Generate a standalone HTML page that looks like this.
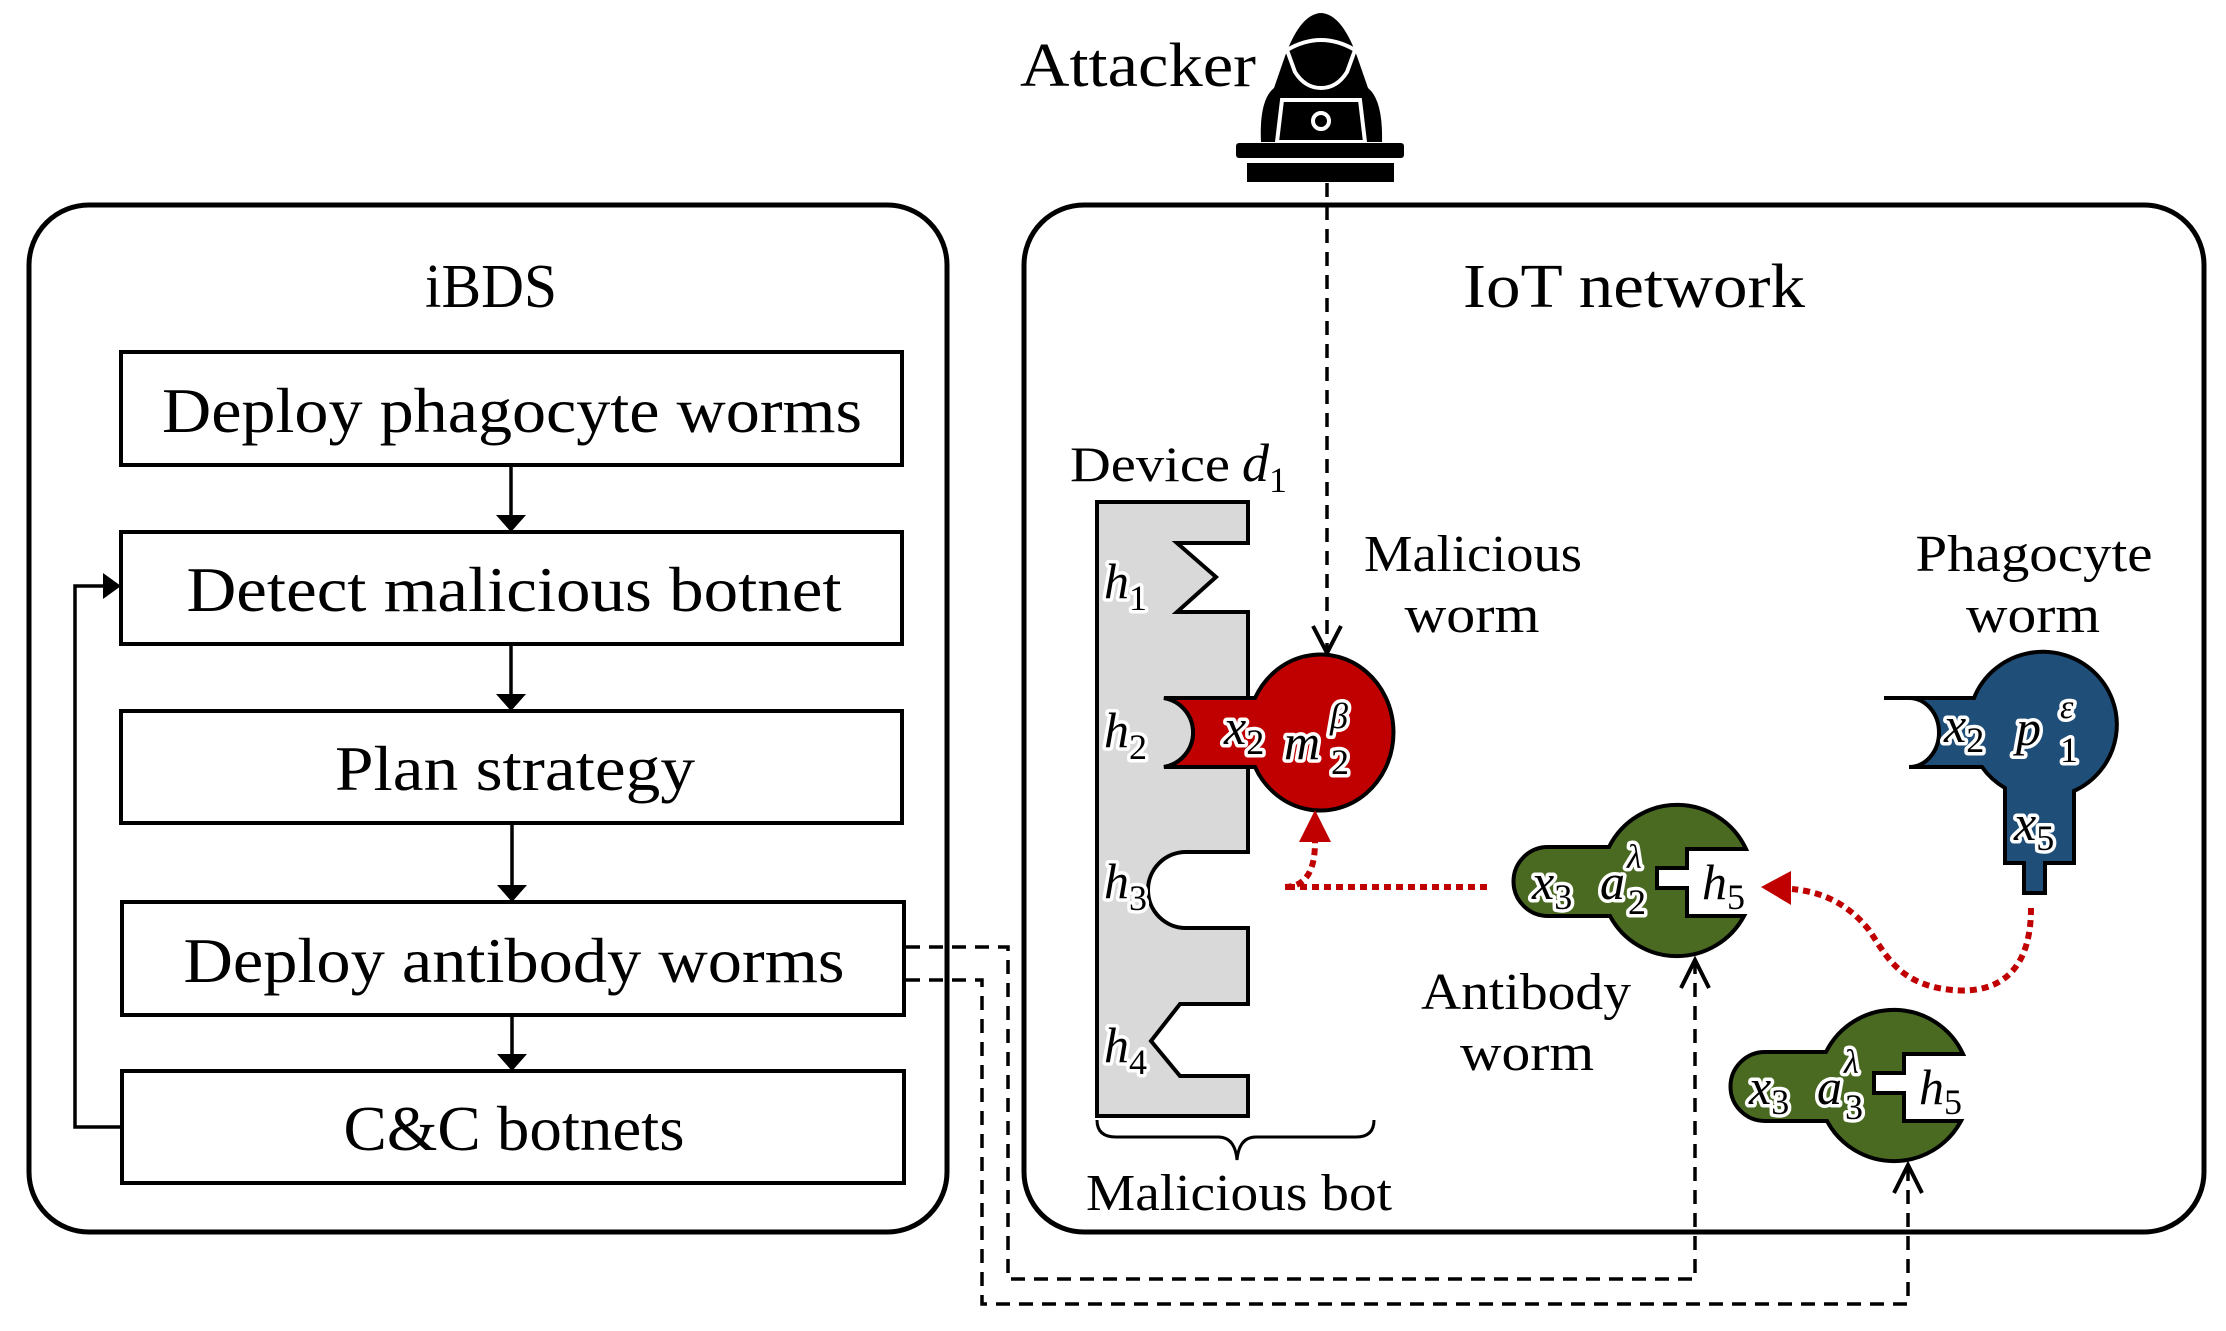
<!DOCTYPE html>
<html><head><meta charset="utf-8"><style>
html,body{margin:0;padding:0;background:#fff}
svg{display:block}
text{font-family:"Liberation Serif",serif;fill:#000}
.m{font-style:italic;stroke:#fff;stroke-width:7;paint-order:stroke;stroke-linejoin:round}
.s{font-style:normal}
</style></head><body>
<svg width="2226" height="1331" viewBox="0 0 2226 1331" xmlns="http://www.w3.org/2000/svg">
<!-- outer boxes -->
<rect x="29" y="205" width="918" height="1027" rx="60" fill="none" stroke="#000" stroke-width="5"/>
<rect x="1024" y="205" width="1180" height="1027" rx="60" fill="none" stroke="#000" stroke-width="5"/>
<text x="491" y="307" font-size="62" text-anchor="middle" textLength="132" lengthAdjust="spacingAndGlyphs">iBDS</text>

<!-- left boxes -->
<g fill="#fff" stroke="#000" stroke-width="4">
<rect x="121" y="352" width="781" height="113"/>
<rect x="121" y="532" width="781" height="112"/>
<rect x="121" y="711" width="781" height="112"/>
<rect x="122" y="902" width="782" height="113"/>
<rect x="122" y="1071" width="782" height="112"/>
</g>
<g font-size="64" text-anchor="middle">
<text x="512" y="432" textLength="700" lengthAdjust="spacingAndGlyphs">Deploy phagocyte worms</text>
<text x="514" y="611" textLength="655" lengthAdjust="spacingAndGlyphs">Detect malicious botnet</text>
<text x="515" y="790" textLength="360" lengthAdjust="spacingAndGlyphs">Plan strategy</text>
<text x="514" y="982" textLength="661" lengthAdjust="spacingAndGlyphs">Deploy antibody worms</text>
<text x="514" y="1150" textLength="341" lengthAdjust="spacingAndGlyphs">C&amp;C botnets</text>
</g>
<g stroke="#000" stroke-width="3.5" fill="none">
<line x1="511" y1="465" x2="511" y2="518"/>
<line x1="511" y1="644" x2="511" y2="697"/>
<line x1="512" y1="823" x2="512" y2="888"/>
<line x1="512" y1="1015" x2="512" y2="1057"/>
<polyline points="122,1127 75,1127 75,586 106,586"/>
</g>
<g fill="#000">
<path d="M496,515 L526,515 L511,532 Z"/>
<path d="M496,694 L526,694 L511,711 Z"/>
<path d="M497,885 L527,885 L512,902 Z"/>
<path d="M497,1054 L527,1054 L512,1071 Z"/>
<path d="M103,573 L121,586 L103,599 Z"/>
</g>

<!-- attacker icon -->
<g transform="translate(-1,0)">
<path d="M1262,142 Q1260,100 1275,88 L1284,62 Q1300,14 1322,13 Q1344,14 1360,62 L1369,88 Q1384,100 1383,142 Z" fill="#000"/>
<path d="M1288,50 Q1322,30 1356,50 L1348,72 Q1338,88 1322,88 Q1306,88 1296,72 Z" fill="#000" stroke="#fff" stroke-width="4"/>
<path d="M1278,142 L1283,100 L1361,100 L1366,142 Z" fill="#000" stroke="#fff" stroke-width="4"/>
<circle cx="1322" cy="121" r="8" fill="none" stroke="#fff" stroke-width="4"/>
<rect x="1237" y="143" width="168" height="15" rx="3" fill="#000"/>
<rect x="1248" y="163" width="147" height="19" fill="#000"/>
</g>

<g transform="translate(-6,0)">
<text x="1640" y="307" font-size="62" text-anchor="middle" textLength="342" lengthAdjust="spacingAndGlyphs">IoT network</text>
<text x="1026" y="86" font-size="62" textLength="236" lengthAdjust="spacingAndGlyphs">Attacker</text>
<line x1="1333" y1="183" x2="1333" y2="650" stroke="#000" stroke-width="3.5" stroke-dasharray="14 9"/>
<polyline points="1319,626 1333,653 1347,626" fill="none" stroke="#000" stroke-width="4"/>

<!-- device -->
<text x="1076" y="481" font-size="50" textLength="160" lengthAdjust="spacingAndGlyphs">Device</text>
<text x="1248" y="481" font-size="54" font-style="italic">d</text>
<text x="1275" y="492" font-size="36">1</text>
<path d="M1103,502 H1254 V543 H1183 L1222,577 L1183,612 H1254 V698 H1170 A35 35 0 0 1 1170,767 H1254 V852 H1192 A38 38 0 0 0 1192,928 H1254 V1004 H1186 L1157,1041 L1186,1076 H1254 V1116 H1103 Z" fill="#d9d9d9" stroke="#000" stroke-width="4"/>
<g font-size="50">
<text class="m" x="1110" y="598">h<tspan class="s" font-size="36" dy="12">1</tspan></text>
<text class="m" x="1110" y="747">h<tspan class="s" font-size="36" dy="12">2</tspan></text>
<text class="m" x="1110" y="898">h<tspan class="s" font-size="36" dy="12">3</tspan></text>
<text class="m" x="1110" y="1062">h<tspan class="s" font-size="36" dy="12">4</tspan></text>
</g>
<path d="M1103,1120 Q1103,1137 1122,1137 H1224 Q1241,1137 1243,1160 Q1245,1137 1262,1137 H1362 Q1380,1137 1380,1120" fill="none" stroke="#000" stroke-width="3"/>
<text x="1245" y="1210" font-size="52" text-anchor="middle" textLength="306" lengthAdjust="spacingAndGlyphs">Malicious bot</text>

<!-- malicious worm -->
<path d="M1170,698 H1261 A73 78 0 1 1 1261,767 H1170 A35 35 0 0 0 1170,698 Z" fill="#c00000" stroke="#000" stroke-width="4"/>
<text class="m" x="1230" y="744" font-size="50">x<tspan class="s" font-size="36" dy="10">2</tspan></text>
<text class="m" x="1290" y="759" font-size="50">m</text>
<text class="m" x="1336" y="728" font-size="36">β</text>
<text class="m s" x="1337" y="774" font-size="36">2</text>
<text x="1479" y="571" font-size="52" text-anchor="middle" textLength="218" lengthAdjust="spacingAndGlyphs">Malicious</text>
<text x="1478" y="632" font-size="52" text-anchor="middle" textLength="135" lengthAdjust="spacingAndGlyphs">worm</text>

<!-- phagocyte -->
<text x="2040" y="571" font-size="52" text-anchor="middle" textLength="237" lengthAdjust="spacingAndGlyphs">Phagocyte</text>
<text x="2039" y="632" font-size="52" text-anchor="middle" textLength="134" lengthAdjust="spacingAndGlyphs">worm</text>
<path d="M1890,698 H1980 A74 73 0 1 1 2080,791 V863 H2051 V893 H2030 V863 H2011 V788 A74 73 0 0 1 1988,767 H1915 A30 34.5 0 0 0 1915,698 Z" fill="#1f4e79" stroke="#000" stroke-width="4"/>
<text class="m" x="1950" y="742" font-size="50">x<tspan class="s" font-size="36" dy="10">2</tspan></text>
<text class="m" x="2022" y="745" font-size="50">p</text>
<text class="m" x="2066" y="718" font-size="34">ε</text>
<text class="m s" x="2066" y="762" font-size="36">1</text>
<text class="m" x="2020" y="840" font-size="50">x<tspan class="s" font-size="36" dy="10">5</tspan></text>

<!-- antibody worms -->
<g id="ab">
<path d="M1554,847 H1615 A76 76 0 0 1 1752,849 H1693 V868 H1663 V888 H1693 V916 H1750 A76 76 0 0 1 1616,916 H1554 A34.5 34.5 0 0 1 1554,847 Z" fill="#4a6a22" stroke="#000" stroke-width="4"/>
<text class="m" x="1538" y="899" font-size="50">x<tspan class="s" font-size="36" dy="10">3</tspan></text>
<text class="m" x="1606" y="899" font-size="50">a</text>
<text class="m" x="1633" y="868" font-size="34">λ</text>
<text class="m" x="1708" y="899" font-size="50">h<tspan class="s" font-size="36" dy="10">5</tspan></text>
</g>
<text class="m s" x="1634" y="914" font-size="36">2</text>
<use href="#ab" transform="translate(217,205)"/>
<text class="m s" x="1851" y="1119" font-size="36">3</text>
<text x="1532" y="1009" font-size="52" text-anchor="middle" textLength="210" lengthAdjust="spacingAndGlyphs">Antibody</text>
<text x="1533" y="1070" font-size="52" text-anchor="middle" textLength="134" lengthAdjust="spacingAndGlyphs">worm</text>

<!-- red dotted -->
<g fill="none" stroke="#c00000" stroke-width="6" stroke-dasharray="7 5">
<path d="M1493,887 H1290 C1305,887 1321,880 1321,842"/>
<path d="M2037,908 C2037,985 1990,993 1958,990 C1905,985 1892,955 1875,930 C1855,905 1830,892 1798,889"/>
</g>
<path d="M1305,842 L1337,842 L1321,810 Z" fill="#c00000"/>
<path d="M1797,871 L1797,905 L1767,887 Z" fill="#c00000"/>
</g>

<!-- dashed connectors -->
<g fill="none" stroke="#000" stroke-width="3.5" stroke-dasharray="14 9">
<polyline points="906,947 1008,947 1008,1279 1695,1279 1695,962"/>
<polyline points="906,980 982,980 982,1304 1908,1304 1908,1168"/>
</g>
<polyline points="1681,988 1695,960 1709,988" fill="none" stroke="#000" stroke-width="4"/>
<polyline points="1894,1193 1908,1165 1922,1193" fill="none" stroke="#000" stroke-width="4"/>
</svg>
</body></html>
